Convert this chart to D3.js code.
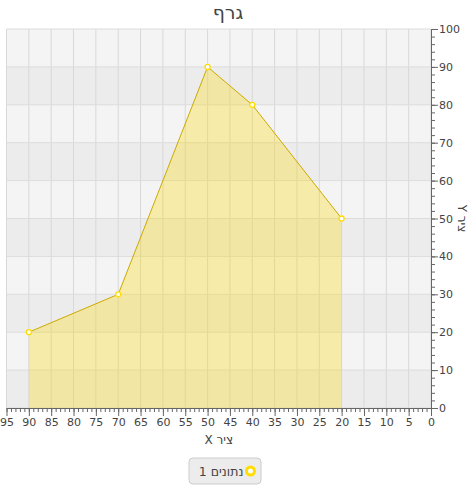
<!DOCTYPE html>
<html>
<head>
<meta charset="utf-8">
<script src="https://cdn.jsdelivr.net/npm/d3@7"></script>
<style>
body { margin: 0; background: #fff; }
text { font-family: "DejaVu Sans", sans-serif; }
</style>
</head>
<body>
<svg id="chart" width="468" height="485"></svg>
<script>
// data
var xValues = [90, 70, 50, 40, 20];
var yValues = [20, 30, 90, 80, 50];
var seriesName = "נתונים 1";
var chartTitle = "גרף";
var xTitle = "ציר X";
var yTitle = "ציר Y";
var xTicks = d3.range(0, 96, 5);
var yTicks = d3.range(0, 101, 10);

var svg = d3.select("#chart"),
    margin = {top: 29, right: 37, bottom: 77, left: 6.5},
    width = +svg.attr("width") - margin.left - margin.right,
    height = +svg.attr("height") - margin.top - margin.bottom;

var x = d3.scaleLinear().domain([95, 0]).range([0, width]);
var y = d3.scaleLinear().domain([0, 100]).range([height, 0]);

var g = svg.append("g")
    .attr("transform", "translate(" + margin.left + "," + margin.top + ")");

// alternating bands
var bands = d3.range(0, 100, 10);
g.selectAll(".band")
    .data(bands)
    .enter().append("rect")
    .attr("x", 0)
    .attr("width", width)
    .attr("y", function(d) { return y(d + 10); })
    .attr("height", function(d) { return y(d) - y(d + 10); })
    .attr("fill", function(d) { return (d / 10) % 2 == 0 ? "#ececec" : "#f4f4f4"; });

// grid
g.selectAll(".vgrid")
    .data(xTicks)
    .enter().append("line")
    .attr("x1", function(d) { return x(d); })
    .attr("x2", function(d) { return x(d); })
    .attr("y1", 0).attr("y2", height)
    .attr("stroke", "#d8d8d8").attr("stroke-width", 1);

g.selectAll(".hgrid")
    .data(yTicks)
    .enter().append("line")
    .attr("y1", function(d) { return y(d); })
    .attr("y2", function(d) { return y(d); })
    .attr("x1", 0).attr("x2", width)
    .attr("stroke", "#dcdcdc").attr("stroke-width", 1);

var data = xValues.map(function(v, i) { return {x: v, y: yValues[i]}; });

// area
var area = d3.area()
    .x(function(d) { return x(d.x); })
    .y0(y(0))
    .y1(function(d) { return y(d.y); });

g.append("path")
    .datum(data)
    .attr("d", area)
    .attr("fill", "rgba(255,215,0,0.3)");

var line = d3.line()
    .x(function(d) { return x(d.x); })
    .y(function(d) { return y(d.y); });

g.append("path")
    .datum(data)
    .attr("d", line)
    .attr("fill", "none")
    .attr("stroke", "#ccaa00")
    .attr("stroke-width", 1);

// x axis minor + major
g.append("g")
    .attr("transform", "translate(0," + height + ")")
    .call(d3.axisBottom(x).tickValues(d3.range(0, 96, 1)).tickSize(4).tickFormat(""))
    .call(function(a) { a.select(".domain").remove(); })
    .selectAll("line").attr("stroke", "#666");

var xAxis = g.append("g")
    .attr("transform", "translate(0," + height + ")")
    .call(d3.axisBottom(x).tickValues(xTicks).tickSize(8).tickSizeOuter(0).tickPadding(2));
xAxis.select(".domain").attr("stroke", "#666");
xAxis.selectAll("line").attr("stroke", "#666");
xAxis.selectAll("text").attr("fill", "#444").style("font-size", "11px")
    .style("font-family", "DejaVu Sans");

// y axis minor + major
g.append("g")
    .attr("transform", "translate(" + width + ",0)")
    .call(d3.axisRight(y).tickValues(d3.range(0, 101, 2)).tickSize(4).tickFormat(""))
    .call(function(a) { a.select(".domain").remove(); })
    .selectAll("line").attr("stroke", "#666");

var yAxis = g.append("g")
    .attr("transform", "translate(" + width + ",0)")
    .call(d3.axisRight(y).tickValues(yTicks).tickSize(7).tickSizeOuter(0).tickPadding(1));
yAxis.select(".domain").attr("stroke", "#666");
yAxis.selectAll("line").attr("stroke", "#666");
yAxis.selectAll("text").attr("fill", "#444").style("font-size", "11px")
    .style("font-family", "DejaVu Sans");

// markers
g.selectAll(".dot")
    .data(data)
    .enter().append("circle")
    .attr("cx", function(d) { return x(d.x); })
    .attr("cy", function(d) { return y(d.y); })
    .attr("r", 2.5)
    .attr("fill", "#fff")
    .attr("stroke", "#ffdd00")
    .attr("stroke-width", 1.3);

// titles
svg.append("text")
    .attr("x", 228).attr("y", 18.5)
    .attr("text-anchor", "middle")
    .attr("fill", "#444")
    .style("font-size", "19px")
    .text(chartTitle);

svg.append("text")
    .attr("x", margin.left + width / 2).attr("y", 444)
    .attr("text-anchor", "middle")
    .attr("direction", "rtl")
    .attr("fill", "#444")
    .style("font-size", "12px")
    .text(xTitle);

svg.append("text")
    .attr("transform", "translate(458," + (margin.top + height / 2) + ") rotate(90)")
    .attr("text-anchor", "middle")
    .attr("direction", "rtl")
    .attr("fill", "#444")
    .style("font-size", "12px")
    .text(yTitle);

// legend
var legend = svg.append("g").attr("transform", "translate(189,458)");
legend.append("rect")
    .attr("width", 72).attr("height", 26).attr("rx", 4)
    .attr("fill", "#ececec").attr("stroke", "#cccccc");
legend.append("circle")
    .attr("cx", 61.5).attr("cy", 13).attr("r", 4)
    .attr("fill", "#fff").attr("stroke", "#ffdd00").attr("stroke-width", 3);
legend.append("text")
    .attr("x", 54.5).attr("y", 17.5)
    .attr("text-anchor", "end")
    .attr("fill", "#444")
    .style("font-size", "12.5px")
    .text(seriesName);
</script>
</body>
</html>
